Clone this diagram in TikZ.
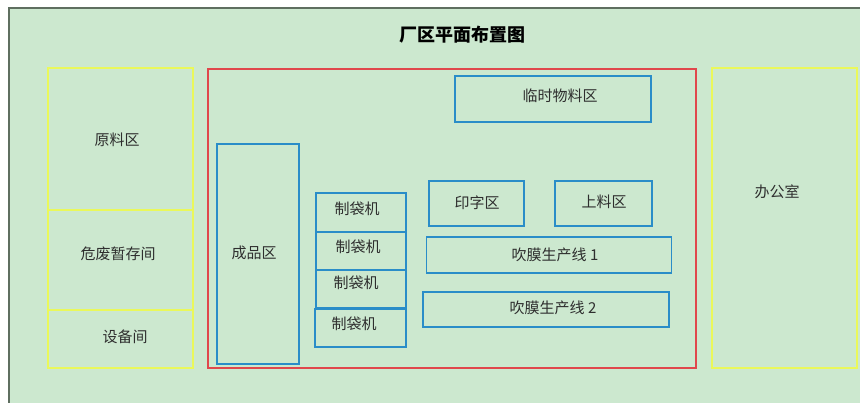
\documentclass[tikz,border=0pt]{standalone}
\usepackage{fontspec}
\newfontfamily\cjk{Noto Sans CJK SC}
\definecolor{bg}{HTML}{CCE8CF}
\definecolor{ylw}{HTML}{EAF85A}
\definecolor{redl}{HTML}{E0474C}
\definecolor{bluel}{HTML}{2A8DC8}
\definecolor{txt}{HTML}{2E2E2E}
\definecolor{frame}{HTML}{5F6F60}
\tikzset{
  lbl/.style={font=\cjk\fontsize{15}{17}\selectfont, text=txt, inner sep=0pt},
  ybox/.style={draw=ylw, line width=2pt, inner sep=0pt},
  bbox/.style={draw=bluel, line width=1.1pt, inner sep=0pt, lbl},
  rbox/.style={draw=redl, line width=1.1pt, inner sep=0pt},
}
\begin{document}
\begin{tikzpicture}[x=1pt,y=-1pt]
\useasboundingbox (0,0) rectangle (860,403);
\fill[white] (0,0) rectangle (860,403);
\fill[bg] (9,8) rectangle (860,403);
\draw[frame, line width=1.3pt] (9,403) -- (9,8) -- (860,8);
\node[font=\cjk\bfseries\fontsize{18}{20}\selectfont, text=black] (title) at (462,35) {厂区平面布置图};
% left column
\node[ybox, minimum width=145pt, minimum height=142pt] (yl) at (120.5,139) {};
\node[ybox, minimum width=145pt, minimum height=100pt] (wf) at (120.5,260) {};
\node[ybox, minimum width=145pt, minimum height=58pt] (sb) at (120.5,339) {};
\node[lbl] (tyl) at (117,140) {原料区};
\node[lbl] (twf) at (118,254) {危废暂存间};
\node[lbl] (tsb) at (125,337) {设备间};
% red workshop
\node[rbox, minimum width=488pt, minimum height=299pt] (ws) at (452,218.5) {};
% right office
\node[ybox, minimum width=145pt, minimum height=300pt] (of) at (784.5,218) {};
\node[lbl] (tof) at (777,192) {办公室};
% blue boxes
\node[bbox, minimum width=196pt, minimum height=46pt] (ls) at (553,99) {};
\node[lbl] (tls) at (560,96) {临时物料区};
\node[bbox, minimum width=82pt, minimum height=220pt] (cp) at (258,254) {};
\node[lbl] (tcp) at (254,253) {成品区};
\node[bbox, minimum width=90pt, minimum height=39pt] (zd1) at (361,212.5) {};
\node[bbox, minimum width=90pt, minimum height=38pt] (zd2) at (361,251) {};
\node[bbox, minimum width=90pt, minimum height=38pt] (zd3) at (361,289) {};
\node[bbox, minimum width=91pt, minimum height=38pt] (zd4) at (360.5,328) {};
\node[lbl] (tzd1) at (357,209) {制袋机};
\node[lbl] (tzd2) at (358,247) {制袋机};
\node[lbl] (tzd3) at (356,283) {制袋机};
\node[lbl] (tzd4) at (354,324) {制袋机};
\node[bbox, minimum width=95pt, minimum height=45pt] (yz) at (476.5,203.5) {};
\node[lbl] (tyz) at (477,203) {印字区};
\node[bbox, minimum width=97pt, minimum height=45pt] (sl) at (603.5,203.5) {};
\node[lbl] (tsl) at (604,202) {上料区};
\node[bbox, minimum width=245pt, minimum height=36pt] (cm1) at (549,255) {};
\node[lbl] (tcm1) at (555,255) {吹膜生产线 1};
\node[bbox, minimum width=246pt, minimum height=35pt] (cm2) at (546,309.5) {};
\node[lbl] (tcm2) at (553,308) {吹膜生产线 2};
\end{tikzpicture}
\end{document}
